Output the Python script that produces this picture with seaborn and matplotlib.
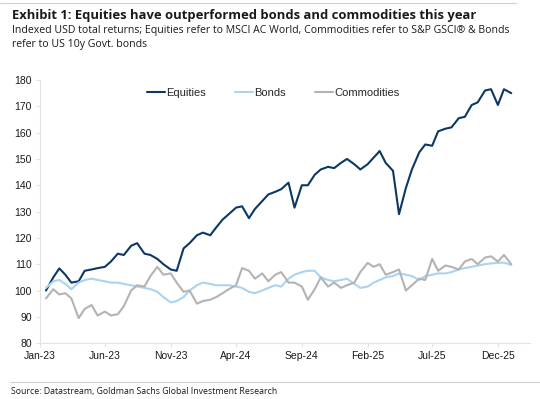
import matplotlib
matplotlib.use("Agg")
import matplotlib.pyplot as plt
import matplotlib.dates as mdates
import seaborn as sns
import pandas as pd

dates = pd.date_range("2023-01-02", periods=72, freq="SMS")

equities = [100, 105, 108.4, 106, 103, 103.5, 107.5, 108, 108.5, 109,
            111, 114, 113.5, 117, 118, 114, 113.5, 112, 110, 108,
            107.5, 116, 118, 121, 122, 121, 124, 127, 129, 131.5,
            132, 127.5, 131, 134, 136.5, 137.5, 138.5, 141, 131.5, 140,
            140, 144, 146, 147, 146.5, 148.5, 150, 148, 146, 148,
            150.5, 153, 148.5, 145.5, 129, 139, 146, 152.5, 155.5, 155,
            160.5, 161.5, 162, 165.5, 166, 170.5, 171.5, 176, 176.5, 170.5,
            176.5, 175]
bonds = [101, 103.5, 104, 102.5, 100.5, 103, 104, 104.5, 104, 103.5,
         103, 103, 102.5, 102, 101.5, 101, 100.5, 99.5, 97.5, 95.5,
         96, 97.5, 100, 102, 103, 102.5, 102, 102, 102, 101.5,
         101, 99.5, 99, 100, 101, 102, 101.5, 104.5, 106, 107,
         107.5, 107.5, 105, 104, 103.5, 104, 104.5, 102.5, 101, 101.5,
         103, 104, 105, 105.5, 106.5, 106, 105.5, 104, 105.5, 106,
         106.5, 106.5, 107, 108, 108.5, 109, 109.5, 110, 110.3, 110.5,
         110.6, 109.7]
commodities = [97, 100.5, 98.5, 99, 97, 89.5, 93, 94.5, 90.5, 92,
               90.5, 91, 94, 100, 102, 101.5, 105.5, 109, 106, 106.5,
               103, 99.5, 100, 95, 96, 96.5, 97.5, 99, 100.5, 102,
               108.5, 107.5, 104.5, 106.5, 103.5, 106, 107, 103, 103, 101.5,
               96.5, 100.5, 105, 101.5, 103, 101, 102, 103, 107, 110.5,
               109, 110, 106, 107, 108, 100, 102, 104.5, 104, 112,
               107.5, 109.5, 109, 108, 111, 112, 110, 112.5, 113, 111,
               113.5, 110]

series = ["Equities", "Bonds", "Commodities"]
colors = ["#0c3865", "#a9d3f2", "#b3b3b3"]

df = pd.DataFrame({"date": dates, "Equities": equities, "Bonds": bonds,
                   "Commodities": commodities})
long = df.melt(id_vars="date", var_name="series", value_name="value")

sns.set_style("white")
plt.rcParams["font.family"] = ["Liberation Sans", "DejaVu Sans"]

fig = plt.figure(figsize=(5.4, 3.99), dpi=100)
ax = fig.add_axes([0.074, 0.140, 0.907, 0.6595])

sns.lineplot(data=long, x="date", y="value", hue="series", hue_order=series,
             palette=colors, linewidth=1.5, ax=ax)

ax.set_ylim(80, 180)
ax.set_yticks(range(80, 181, 10))
ax.set_xlim(pd.Timestamp("2023-01-01"), pd.Timestamp("2026-02-13"))
ticks = pd.date_range("2023-01-01", "2025-12-01", freq="5MS")
ax.set_xticks(ticks)
ax.xaxis.set_major_formatter(mdates.DateFormatter("%b-%y"))
ax.set_xlabel("")
ax.set_ylabel("")
for side in ["top", "right"]:
    ax.spines[side].set_visible(False)
for side in ["left", "bottom"]:
    ax.spines[side].set_color("#e2e2e2")
    ax.spines[side].set_linewidth(0.8)
ax.tick_params(axis="both", labelsize=7.5, colors="#e2e2e2", labelcolor="#1a1a1a",
               length=3, width=0.8, direction="out", left=True, bottom=True, pad=3)

ax.legend(loc="center", bbox_to_anchor=(0.476, 0.95), ncol=3, frameon=False,
          fontsize=8, handlelength=1.6, handletextpad=0.15, columnspacing=2.6)

fig.add_artist(plt.Line2D([0, 0.955], [0.992, 0.992], color="#d0d0d0", lw=0.8))
fig.add_artist(plt.Line2D([0.018, 1.0], [0.043, 0.043], color="#d0d0d0", lw=0.8))

fig.text(0.0217, 0.952, "Exhibit 1: Equities have outperformed bonds and commodities this year",
         family="Open Sans", weight="bold", fontsize=9.4, va="baseline", color="#1a1a1a")
fig.text(0.0217, 0.918, "Indexed USD total returns; Equities refer to MSCI AC World, "
         "Commodities refer to S&P GSCI\u00ae & Bonds",
         family="Open Sans", fontsize=7.6, va="baseline", color="#1a1a1a")
fig.text(0.0217, 0.883, "refer to US 10y Govt. bonds",
         family="Open Sans", fontsize=7.6, va="baseline", color="#1a1a1a")
fig.text(0.02, 0.012, "Source: Datastream, Goldman Sachs Global Investment Research",
         family="Open Sans", fontsize=6.35, va="baseline", color="#1a1a1a")

fig.savefig("out.png", dpi=100)
